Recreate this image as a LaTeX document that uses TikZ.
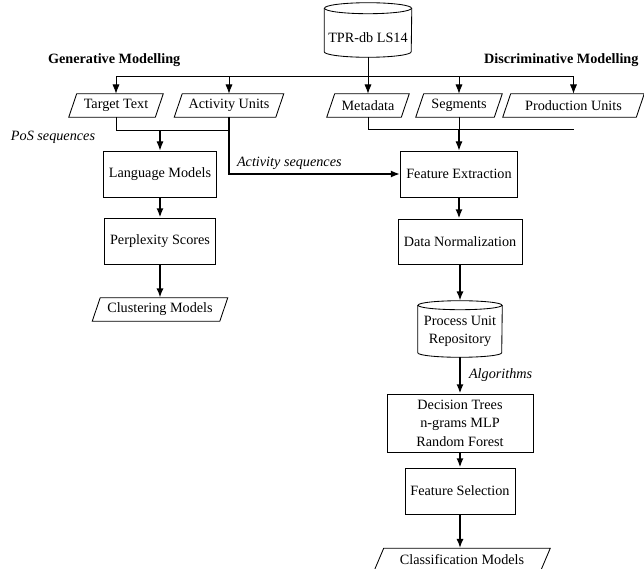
\documentclass[tikz,border=0pt]{standalone}
\usepackage{fontspec}
\setmainfont{Liberation Serif}
\usetikzlibrary{arrows.meta}
\def\pxu{0.7035pt}
\begin{document}
\begin{tikzpicture}[x=0.7035pt,y=-0.7035pt,
  font=\fontsize{10}{13}\selectfont,
  thinln/.style={line width=0.6pt},
  medln/.style={line width=0.8pt},
  thickln/.style={line width=1.3pt},
  arr/.style={-{Latex[length=6.5pt,width=5pt]}},
  box/.style={draw, line width=0.6pt, inner sep=0pt, align=center},
  para/.style={inner sep=0pt, minimum height=23*\pxu},
  cyl/.style={inner sep=0pt, align=center},
  lbl/.style={font=\fontsize{10}{12}\selectfont\itshape},
  hdr/.style={font=\fontsize{10}{12}\selectfont\bfseries},
]
\useasboundingbox (0,0) rectangle (644,569);

% headers
\node[hdr, anchor=west] (gen) at (43,60) {Generative Modelling};
\node[hdr, anchor=east] (dis) at (643.5,60) {Discriminative Modelling};

% database
\node[cyl, minimum width=87*\pxu, text height=34.5*\pxu, text depth=14*\pxu] (tpr) at (368,32.75) {TPR-db LS14};

% parallelograms
\node[para, minimum width=86*\pxu] (tt) at (116,105.5) {Target Text};
\node[para, minimum width=101*\pxu] (au) at (229,105.5) {Activity Units};
\node[para, minimum width=74*\pxu] (md) at (368,105.5) {Metadata};
\node[para, minimum width=78*\pxu] (sg) at (459,105.5) {Segments};
\node[para, minimum width=133*\pxu] (pu) at (573.5,105.5) {Production Units};

% generative branch
\node[box, minimum width=113*\pxu, minimum height=46*\pxu] (lm) at (160,174) {Language Models};
\node[box, minimum width=111*\pxu, minimum height=46*\pxu] (ps) at (160,241) {Perplexity Scores};
\node[para, minimum width=127*\pxu] (cm) at (160,309.5) {Clustering Models};

% discriminative branch
\node[box, minimum width=117*\pxu, minimum height=46*\pxu] (fe) at (459,174) {Feature Extraction};
\node[box, minimum width=124*\pxu, minimum height=45*\pxu] (dn) at (460,241.5) {Data Normalization};
\node[cyl, minimum width=84*\pxu, minimum height=51.5*\pxu] (pur) at (460,331.25) {Process Unit\\Repository};
\node[box, minimum width=146*\pxu, minimum height=58*\pxu] (dt) at (460,423) {Decision Trees\\n-grams MLP\\Random Forest};
\node[box, minimum width=110*\pxu, minimum height=46*\pxu] (fs) at (460,491) {Feature Selection};
\node[para, minimum width=166*\pxu] (cls) at (462,560) {Classification Models};

% parallelogram outlines
\foreach \n in {tt,au,md,sg,pu,cm}{
  \draw[thinln] ([xshift=-4*\pxu]\n.south west) -- ([xshift=4*\pxu]\n.north west)
    -- ([xshift=4*\pxu]\n.north east) -- ([xshift=-4*\pxu]\n.south east) -- cycle;
}
\draw[thinln] ([xshift=-5*\pxu]cls.south west) -- ([xshift=5*\pxu]cls.north west)
    -- ([xshift=5*\pxu]cls.north east) -- ([xshift=-5*\pxu]cls.south east) -- cycle;

% cylinder outlines
\foreach \n/\w/\r in {tpr/43.5/5.5, pur/42/4.5}{
  \draw[thinln] (\n.north) ellipse [x radius=\w*\pxu, y radius=\r*\pxu];
  \draw[thinln] (\n.north west) -- ([yshift=\r*\pxu]\n.south west)
    arc [start angle=180, end angle=360, x radius=\w*\pxu, y radius=\r*\pxu]
    -- (\n.north east);
}

% bus from database
\coordinate (bus) at (368,76);
\draw[thinln] (tpr.south) -- (bus);
\draw[thinln] (tt.north |- bus) -- (pu.north |- bus);
\foreach \n in {tt,au,md,sg,pu}{
  \draw[thinln,arr] (\n.north |- bus) -- (\n.north);
}

% generative merge
\coordinate (j1) at (0,130);
\draw[thinln] (tt.south) -- (tt.south |- j1) -- (au.south |- j1);
\draw[medln,arr] (lm.north |- j1) -- (lm.north);
\draw[thickln,arr] (au.south) -- (au.south |- fe.west) -- (fe.west);
\node[lbl] (pos) at (53,137) {PoS sequences};
\node[lbl, anchor=west] (acts) at (232,163) {Activity sequences};

% discriminative merge
\coordinate (j2) at (0,129);
\draw[thinln] (md.south) -- (md.south |- j2) -- (pu.south |- j2);
\draw[thinln] (sg.south) -- (sg.south |- j2);
\draw[medln,arr] (sg.south |- j2) -- (sg.south |- fe.north);

% thick chains
\draw[thickln,arr] (lm) -- (ps);
\draw[thickln,arr] (ps) -- (cm);
\draw[thickln,arr] (fe.south) -- (fe.south |- dn.north);
\draw[thickln,arr] (dn.south) -- ([yshift=4.5*\pxu]pur.north);
\draw[thickln,arr] (pur.south) -- (dt.north);
\draw[thickln,arr] (dt) -- (fs);
\draw[thickln,arr] (fs.south) -- (fs.south |- cls.north);
\node[lbl, anchor=west] (alg) at (464,375) {Algorithms};
\end{tikzpicture}
\end{document}
